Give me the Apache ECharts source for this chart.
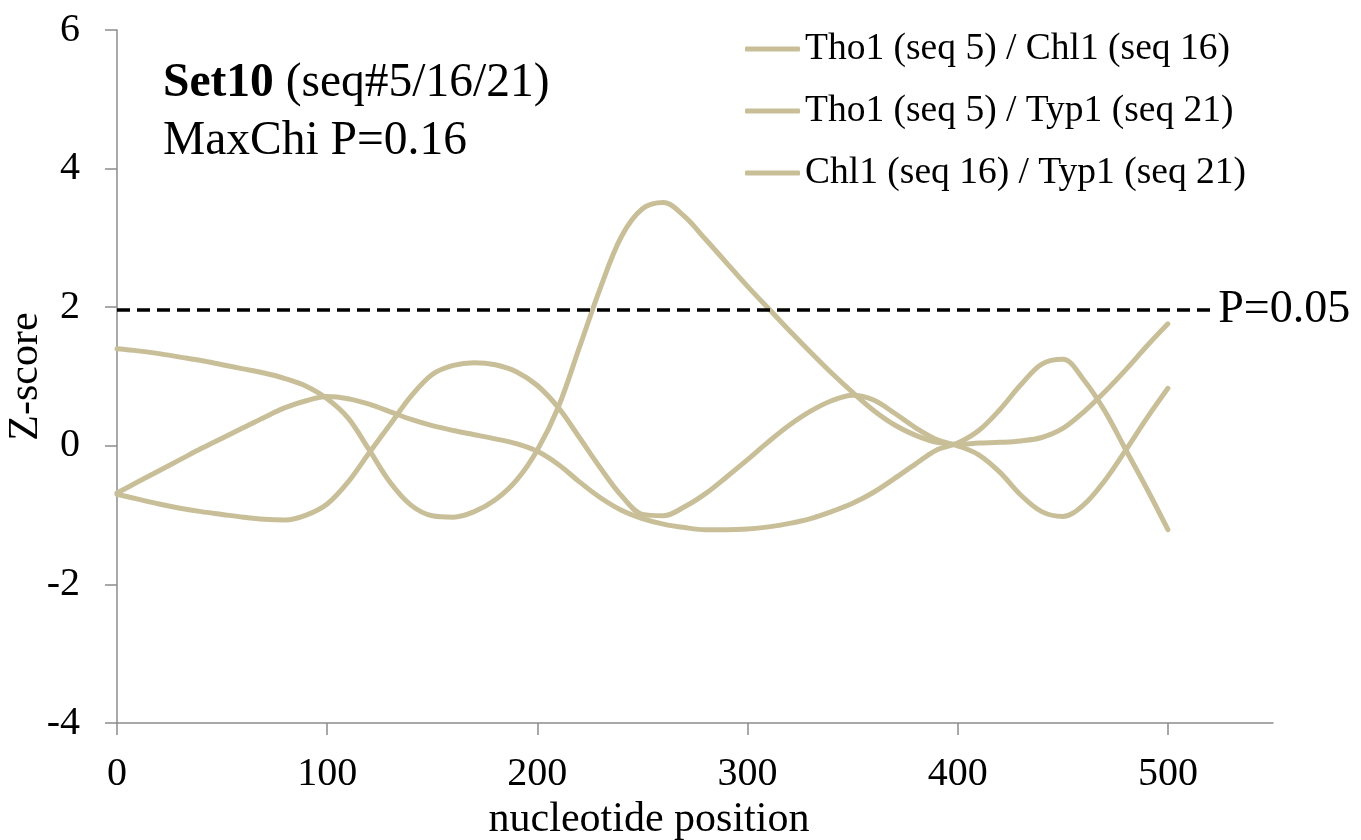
<!DOCTYPE html>
<html>
<head>
<meta charset="utf-8">
<script src="https://cdn.jsdelivr.net/npm/echarts@6/dist/echarts.min.js"></script>
<style>
  html, body { margin: 0; padding: 0; background: #ffffff; }
  #chart { width: 1361px; height: 840px; }
</style>
</head>
<body>
<div id="chart"></div>
<script>
// ---- data ----
const positions = [0,10,20,30,40,50,60,70,80,90,100,110,120,130,140,150,160,170,180,190,200,
  210,220,230,240,250,260,270,280,290,300,310,320,330,340,350,360,370,380,390,400,
  410,420,430,440,450,460,470,480,490,500];

const seriesNames = [
  'Tho1 (seq 5) / Chl1 (seq 16)',
  'Tho1 (seq 5) / Typ1 (seq 21)',
  'Chl1 (seq 16) / Typ1 (seq 21)'
];

const tho1Chl1 = [1.40,1.37,1.33,1.28,1.23,1.17,1.11,1.05,0.97,0.86,0.68,0.40,-0.06,-0.53,-0.86,-1.01,-1.03,-0.95,-0.78,-0.50,-0.06,
  0.56,1.42,2.28,3.02,3.42,3.51,3.31,2.98,2.64,2.30,1.98,1.66,1.35,1.05,0.77,0.51,0.30,0.15,0.05,0.02,
  0.04,0.05,0.07,0.12,0.25,0.49,0.78,1.10,1.44,1.76];

const tho1Typ1 = [-0.70,-0.77,-0.84,-0.90,-0.95,-0.99,-1.03,-1.06,-1.07,-1.00,-0.84,-0.52,-0.10,0.31,0.72,1.03,1.16,1.20,1.17,1.07,0.87,
  0.55,0.12,-0.32,-0.72,-0.99,-1.01,-0.88,-0.69,-0.45,-0.20,0.06,0.30,0.50,0.65,0.73,0.66,0.47,0.26,0.09,0.00,
  -0.13,-0.38,-0.71,-0.95,-1.02,-0.85,-0.50,-0.06,0.40,0.83];

const chl1Typ1 = [-0.68,-0.52,-0.36,-0.20,-0.04,0.11,0.26,0.41,0.55,0.65,0.71,0.68,0.60,0.49,0.38,0.29,0.22,0.16,0.10,0.03,-0.08,
  -0.27,-0.52,-0.75,-0.93,-1.05,-1.13,-1.18,-1.21,-1.21,-1.20,-1.17,-1.12,-1.05,-0.95,-0.83,-0.67,-0.47,-0.26,-0.06,0.04,
  0.22,0.52,0.88,1.18,1.25,0.95,0.50,-0.06,-0.62,-1.21];

const thresholdX = [0, 522];
const thresholdZ = 1.96;
const thresholdLabel = 'P=0.05';

const xTicks = [0, 100, 200, 300, 400, 500];
const yTicks = [-4, -2, 0, 2, 4, 6];

const titleLine1Bold = 'Set10';
const titleLine1Rest = ' (seq#5/16/21)';
const titleLine2 = 'MaxChi P=0.16';

// ---- chart ----
const LINE = '#c8bf99';
const AXIS = '#8c8c8c';
const FONT = '"Liberation Serif", "DejaVu Serif", serif';

function pairs(vals) { return positions.map((p, i) => [p, vals[i]]); }

const valueSets = [tho1Chl1, tho1Typ1, chl1Typ1];

const lineSeries = seriesNames.map((name, i) => ({
  name: name,
  type: 'line',
  data: pairs(valueSets[i]),
  smooth: 0.35,
  symbol: 'none',
  lineStyle: { color: LINE, width: 5, cap: 'round', join: 'round' },
  itemStyle: { color: LINE },
  z: 2
}));

const chart = echarts.init(document.getElementById('chart'), null, { renderer: 'canvas' });

chart.setOption({
  animation: false,
  backgroundColor: '#ffffff',
  textStyle: { fontFamily: FONT },
  title: {
    left: 158,
    top: 50,
    text: '{b|' + titleLine1Bold + '}' + titleLine1Rest + '\n' + titleLine2,
    textStyle: {
      fontFamily: FONT, fontSize: 47.5, fontWeight: 'normal', color: '#000', lineHeight: 58,
      rich: { b: { fontFamily: FONT, fontSize: 47.5, fontWeight: 'bold', color: '#000', lineHeight: 58 } }
    }
  },
  legend: {
    data: seriesNames,
    orient: 'vertical',
    left: 740,
    top: 24,
    icon: 'roundRect',
    itemWidth: 55,
    itemHeight: 5,
    itemGap: 22,
    textStyle: { fontFamily: FONT, fontSize: 37.5, color: '#000', lineHeight: 40 }
  },
  grid: { left: 117, right: 88, top: 30, bottom: 117, containLabel: false, outerBoundsMode: 'none' },
  xAxis: {
    type: 'value',
    min: 0, max: 550, interval: 100,
    name: 'nucleotide position',
    nameLocation: 'middle',
    nameGap: 76,
    nameMoveOverlap: false,
    nameTextStyle: { fontFamily: FONT, fontSize: 42, color: '#000', padding: [0, 92, 0, 0] },
    axisLine: { show: true, onZero: false, lineStyle: { color: AXIS, width: 1.5 } },
    axisTick: { show: true, inside: false, length: 12, customValues: xTicks, lineStyle: { color: AXIS, width: 1.5 } },
    axisLabel: { customValues: xTicks, margin: 31, fontFamily: FONT, fontSize: 40, color: '#000' },
    splitLine: { show: false }
  },
  yAxis: {
    type: 'value',
    min: -4, max: 6, interval: 2,
    name: 'Z-score',
    nameLocation: 'middle',
    nameGap: 70,
    nameMoveOverlap: false,
    nameRotate: 90,
    nameTextStyle: { fontFamily: FONT, fontSize: 42, color: '#000' },
    axisLine: { show: true, onZero: false, lineStyle: { color: AXIS, width: 1.5 } },
    axisTick: { show: true, inside: false, length: 12, customValues: yTicks, lineStyle: { color: AXIS, width: 1.5 } },
    axisLabel: { customValues: yTicks, margin: 37, fontFamily: FONT, fontSize: 40, color: '#000' },
    splitLine: { show: false }
  },
  series: lineSeries.concat([{
    name: thresholdLabel,
    type: 'line',
    data: thresholdX.map(x => [x, thresholdZ]),
    symbol: 'none',
    lineStyle: { color: '#000', width: 3.5, type: [13, 7] },
    itemStyle: { color: '#000' },
    endLabel: { show: true, formatter: thresholdLabel, fontFamily: FONT, fontSize: 46, color: '#000', distance: 4 },
    z: 3
  }])
});
</script>
</body>
</html>
